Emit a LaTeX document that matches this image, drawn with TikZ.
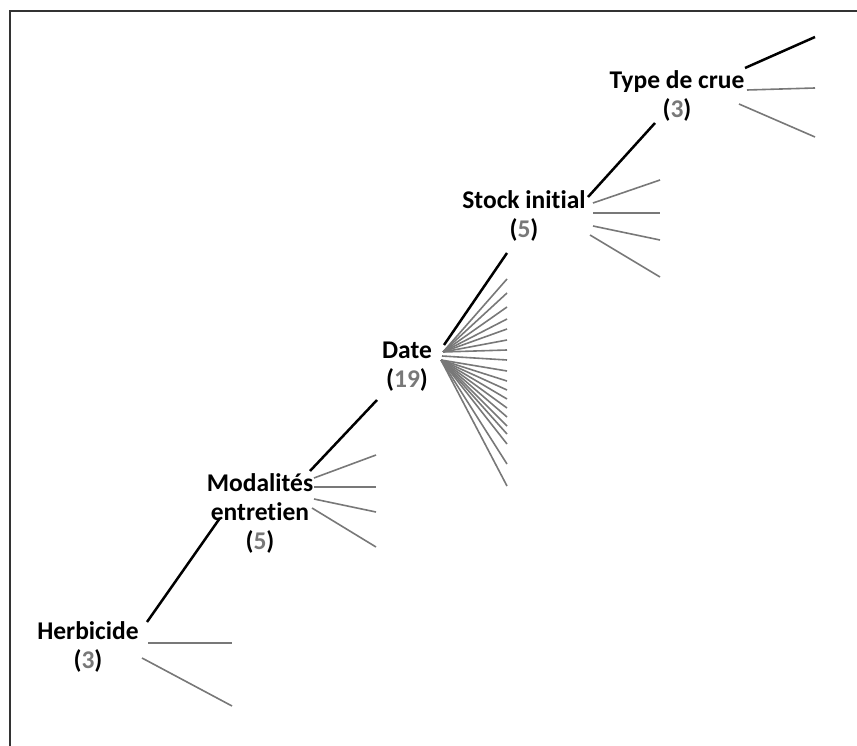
\documentclass[tikz,border=0pt]{standalone}
\usepackage{fontspec}
\setmainfont{Carlito}[Ligatures={NoCommon,NoContextual}]
\definecolor{grisbranche}{gray}{0.47}
\newcommand{\nb}[1]{\textcolor{grisbranche}{#1}}
\begin{document}
\begin{tikzpicture}[
    x=1pt, y=-1pt,  % On travaille en pixels, y vers le bas
    niveau/.style={font=\bfseries\fontsize{25.5}{29}\selectfont, align=center, inner sep=0pt},
    lien/.style={draw, line width=2.5pt, black},          % Lien entre les niveaux
    branche/.style={draw, line width=1.6pt, grisbranche}  % Modalités de chaque niveau
]
\useasboundingbox (0,0) rectangle (857,746);
% Cadre (bords gauche et haut)
\draw[line width=2pt, black!80] (10,746) -- (10,11) -- (857,11);

% Niveaux
\node[niveau] (herb)  at (88,647)  {Herbicide\\(\nb{3})};
\node[niveau] (modal) at (260,513) {Modalités\\entretien\\(\nb{5})};
\node[niveau] (date)  at (407,367) {Date\\(\nb{19})};
\node[niveau] (stock) at (524,216) {Stock initial\\(\nb{5})};
\node[niveau] (crue)  at (677,96)  {Type de crue\\(\nb{3})};

% Points d'attache des liens
\coordinate (herb-out)  at (147,622);
\coordinate (modal-in)  at (220,518);
\coordinate (modal-out) at (310,471);
\coordinate (date-in)   at (377,400);
\coordinate (date-out)  at (444,345);
\coordinate (stock-in)  at (507,253);
\coordinate (stock-out) at (588,197);
\coordinate (crue-in)   at (655,123);

\draw[lien] (herb-out)  -- (modal-in);
\draw[lien] (modal-out) -- (date-in);
\draw[lien] (date-out)  -- (stock-in);
\draw[lien] (stock-out) -- (crue-in);

% Herbicide (3)
\foreach \xa/\ya/\yb [count=\i] in {148/643/643, 142/658/706}
    { \coordinate (h\i) at (232,\yb); \draw[branche] (\xa,\ya) -- (h\i); }
% Modalités entretien (5)
\foreach \xa/\ya/\yb [count=\i] in {314/478/455, 314/487/487, 314/499/512, 312/508/547}
    { \coordinate (m\i) at (376,\yb); \draw[branche] (\xa,\ya) -- (m\i); }
% Date (19)
\foreach \xa/\ya/\yb [count=\i] in {443/352/279, 443/352/293, 443/352/307, 443/352/319,
    443/352/329, 443/352/340, 443/352/350, 442/356/360, 441/360/371, 441/360/381,
    441/360/390, 441/360/399, 441/360/408, 441/360/417, 441/360/426, 441/360/434,
    441/360/444, 441/360/464, 441/360/486}
    { \coordinate (d\i) at (507,\yb); \draw[branche] (\xa,\ya) -- (d\i); }
% Stock initial (5)
\foreach \xa/\ya/\yb [count=\i] in {593/203/180, 593/213/213, 593/226/240, 590/235/277}
    { \coordinate (s\i) at (660,\yb); \draw[branche] (\xa,\ya) -- (s\i); }
% Type de crue (3)
\coordinate (c1) at (815,37);
\draw[lien] (745,68) -- (c1);
\foreach \xa/\ya/\yb [count=\i from 2] in {747/90/88, 739/104/137}
    { \coordinate (c\i) at (815,\yb); \draw[branche] (\xa,\ya) -- (c\i); }
\end{tikzpicture}
\end{document}
